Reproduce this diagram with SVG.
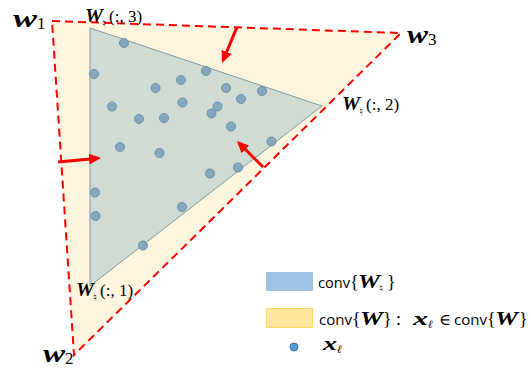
<svg xmlns="http://www.w3.org/2000/svg" width="531" height="368" viewBox="0 0 531 368">
<defs>
<style>
.outer{fill:#fef5df;stroke:#ff0000;stroke-width:2;stroke-dasharray:8 5}
.inner{fill:#d0dbd3;stroke:#7e9a9e;stroke-width:1}
.dot{fill:#84a9bf;stroke:#6b8fa6;stroke-width:1}
.arr{stroke:#ff0000;stroke-width:3;fill:none;marker-end:url(#ah)}
.m{font-family:"Liberation Serif","DejaVu Serif",serif;fill:#000}
.bi{font-family:"Liberation Serif",serif;font-weight:bold;font-style:italic;fill:#000}
.nat{font-family:"DejaVu Sans",sans-serif;fill:#000;font-size:11px}
.s{font-family:"Open Sans","Liberation Sans",sans-serif;fill:#000;font-size:15px}
</style>
<marker id="ah" viewBox="0 0 12 11" refX="9" refY="5.5" markerWidth="12" markerHeight="11" orient="auto" markerUnits="userSpaceOnUse">
<path d="M0,0 L12,5.5 L0,11 z" fill="#ff0000"/>
</marker>
</defs>
<g id="outer-hull">
<polygon class="outer" points="52,21 401,33 74,355"/>
</g>
<g id="inner-hull">
<polygon class="inner" points="90,28 322,106 90,286"/>
</g>
<g id="points">
<circle class="dot" cx="124" cy="43" r="4.5"/>
<circle class="dot" cx="94" cy="74" r="4.5"/>
<circle class="dot" cx="206" cy="71" r="4.5"/>
<circle class="dot" cx="181" cy="80" r="4.5"/>
<circle class="dot" cx="155.5" cy="88" r="4.5"/>
<circle class="dot" cx="226" cy="88" r="4.5"/>
<circle class="dot" cx="262" cy="91" r="4.5"/>
<circle class="dot" cx="241" cy="99" r="4.5"/>
<circle class="dot" cx="182.5" cy="102.5" r="4.5"/>
<circle class="dot" cx="217.5" cy="106.5" r="4.5"/>
<circle class="dot" cx="211.5" cy="113.5" r="4.5"/>
<circle class="dot" cx="112" cy="106.5" r="4.5"/>
<circle class="dot" cx="139" cy="119" r="4.5"/>
<circle class="dot" cx="164" cy="118" r="4.5"/>
<circle class="dot" cx="231" cy="126.5" r="4.5"/>
<circle class="dot" cx="120" cy="147" r="4.5"/>
<circle class="dot" cx="159.5" cy="153" r="4.5"/>
<circle class="dot" cx="271.5" cy="141.5" r="4.5"/>
<circle class="dot" cx="210" cy="173.5" r="4.5"/>
<circle class="dot" cx="238" cy="167.5" r="4.5"/>
<circle class="dot" cx="95" cy="192.5" r="4.5"/>
<circle class="dot" cx="95.5" cy="216" r="4.5"/>
<circle class="dot" cx="182" cy="207" r="4.5"/>
<circle class="dot" cx="143" cy="245.5" r="4.5"/>
</g>
<g id="connectors">
<line class="arr" x1="237" y1="27" x2="223.2" y2="60.2"/>
<line class="arr" x1="58" y1="162" x2="98" y2="158.3"/>
<line class="arr" x1="263" y1="167" x2="239.1" y2="143.1"/>
</g>
<g id="label-w1">
<text class="bi" x="13" y="27" font-size="26" textLength="24" lengthAdjust="spacingAndGlyphs">w</text>
<text class="m" x="37" y="29" font-size="17">1</text>
</g>
<g id="label-w3">
<text class="bi" x="407" y="43" font-size="26" textLength="21" lengthAdjust="spacingAndGlyphs">w</text>
<text class="m" x="428" y="45" font-size="17">3</text>
</g>
<g id="label-w2">
<text class="bi" x="43" y="362" font-size="26" textLength="22" lengthAdjust="spacingAndGlyphs">w</text>
<text class="m" x="65" y="364" font-size="17">2</text>
</g>
<g id="label-W3">
<text class="bi" x="85" y="22" font-size="19" textLength="18" lengthAdjust="spacingAndGlyphs">W</text>
<text class="nat" x="102" y="27">♮</text>
<text class="m" x="109" y="22" font-size="17">(:, 3)</text>
</g>
<g id="label-W2">
<text class="bi" x="342" y="110" font-size="19" textLength="18" lengthAdjust="spacingAndGlyphs">W</text>
<text class="nat" x="359" y="115">♮</text>
<text class="m" x="366" y="110" font-size="17">(:, 2)</text>
</g>
<g id="label-W1">
<text class="bi" x="76" y="296" font-size="19" textLength="18" lengthAdjust="spacingAndGlyphs">W</text>
<text class="nat" x="93" y="301">♮</text>
<text class="m" x="100" y="296" font-size="17">(:, 1)</text>
</g>
<g id="legend">
<rect x="266" y="272" width="47" height="19" fill="#9dc3e6"/>
<rect x="266.5" y="308.5" width="46" height="19" fill="#ffe699" stroke="#ffd966" stroke-width="1"/>
<circle cx="294" cy="347" r="4" fill="#5b9bd5" stroke="#41719c" stroke-width="1"/>
<text class="s" x="318" y="288" textLength="32" lengthAdjust="spacingAndGlyphs">conv</text>
<text class="m" x="350" y="288" font-size="18">{</text>
<text class="bi" x="358" y="288" font-size="18" textLength="22" lengthAdjust="spacingAndGlyphs">W</text>
<text class="nat" x="379" y="292">♮</text>
<text class="m" x="387" y="288" font-size="18">}</text>
<text class="s" x="319" y="325" textLength="33" lengthAdjust="spacingAndGlyphs">conv</text>
<text class="m" x="352" y="325" font-size="18">{</text>
<text class="bi" x="360" y="325" font-size="18" textLength="23" lengthAdjust="spacingAndGlyphs">W</text>
<text class="m" x="383" y="325" font-size="18">}</text>
<text class="m" x="396" y="325" font-size="18">:</text>
<text class="bi" x="413" y="325" font-size="18" textLength="15" lengthAdjust="spacingAndGlyphs">x</text>
<text class="m" x="428" y="328" font-size="11" font-style="italic">ℓ</text>
<text class="m" x="439" y="325" font-size="16">∈</text>
<text class="s" x="454" y="325" textLength="33" lengthAdjust="spacingAndGlyphs">conv</text>
<text class="m" x="487" y="325" font-size="18">{</text>
<text class="bi" x="495" y="325" font-size="18" textLength="23" lengthAdjust="spacingAndGlyphs">W</text>
<text class="m" x="519" y="325" font-size="18">}</text>
<text class="bi" x="323" y="350" font-size="18" textLength="14" lengthAdjust="spacingAndGlyphs">x</text>
<text class="m" x="337" y="353" font-size="11" font-style="italic">ℓ</text>
</g>
</svg>
